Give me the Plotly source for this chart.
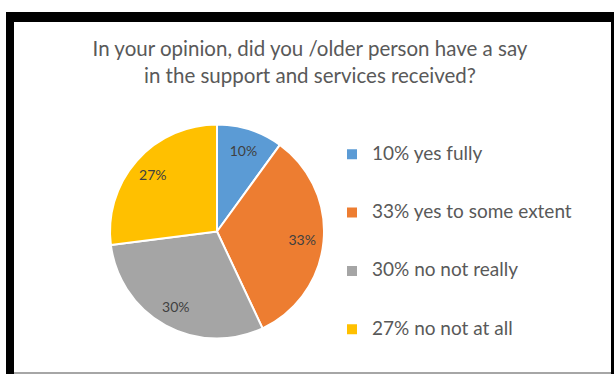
import plotly.graph_objects as go

# Survey responses
categories = ["yes fully", "yes to some extent", "no not really", "no not at all"]
shares = [10, 33, 30, 27]
colors = ["#5B9BD5", "#ED7D31", "#A5A5A5", "#FFC000"]

title_text = ("In your opinion, did you /older person have a say"
              "<br>in the support and services received?")

W, H = 614, 374
pie_domain = dict(x=[110 / W, 324 / W], y=[1 - 339 / H, 1 - 124 / H])

# Legend entries padded with blank lines so the items are spread out
legend_labels = [" <br><span style='font-size:19px'>%d%% %s</span><br> " % (v, c)
                 for v, c in zip(shares, categories)]

fig = go.Figure()

# Coloured slices (own the legend entries)
fig.add_trace(go.Pie(
    labels=legend_labels,
    values=shares,
    sort=False,
    direction="clockwise",
    rotation=0,
    marker=dict(colors=colors, line=dict(color="white", width=2)),
    textinfo="none",
    domain=pie_domain,
    hoverinfo="skip",
))

# Transparent ring on top that carries the percentage labels towards the rim
fig.add_trace(go.Pie(
    labels=legend_labels,
    values=shares,
    sort=False,
    direction="clockwise",
    rotation=0,
    hole=0.6,
    marker=dict(colors=["rgba(0,0,0,0)"] * len(shares), line=dict(width=0)),
    texttemplate="%{value}%",
    textposition="inside",
    insidetextorientation="horizontal",
    textfont=dict(family="Lato", size=14, color="#404040"),
    domain=pie_domain,
    showlegend=False,
    hoverinfo="skip",
))

# Frame: black border with a white chart area and a grey bottom rule
shapes = [
    dict(type="rect", xref="paper", yref="paper", x0=6 / W, x1=1, y0=0, y1=1 - 12 / H,
         fillcolor="black", line=dict(width=0), layer="below"),
    dict(type="rect", xref="paper", yref="paper", x0=14 / W, x1=611 / W, y0=2 / H, y1=1 - 22 / H,
         fillcolor="white", line=dict(width=0), layer="below"),
    dict(type="rect", xref="paper", yref="paper", x0=14 / W, x1=611 / W, y0=0, y1=2 / H,
         fillcolor="#A6A6A6", line=dict(width=0), layer="below"),
]

fig.update_layout(
    width=W, height=H,
    margin=dict(l=0, r=0, t=0, b=0),
    paper_bgcolor="white",
    shapes=shapes,
    title=dict(text=title_text, x=310 / W, xanchor="center", y=1 - 56 / H, yanchor="middle",
               font=dict(family="Lato", size=20.5, color="#595959")),
    showlegend=True,
    legend=dict(x=332 / W, xanchor="left", y=1 - 120 / H, yanchor="top",
                font=dict(family="Lato", size=14.2, color="#595959"),
                valign="middle", bgcolor="rgba(0,0,0,0)"),
)

fig.write_html("out.html")
